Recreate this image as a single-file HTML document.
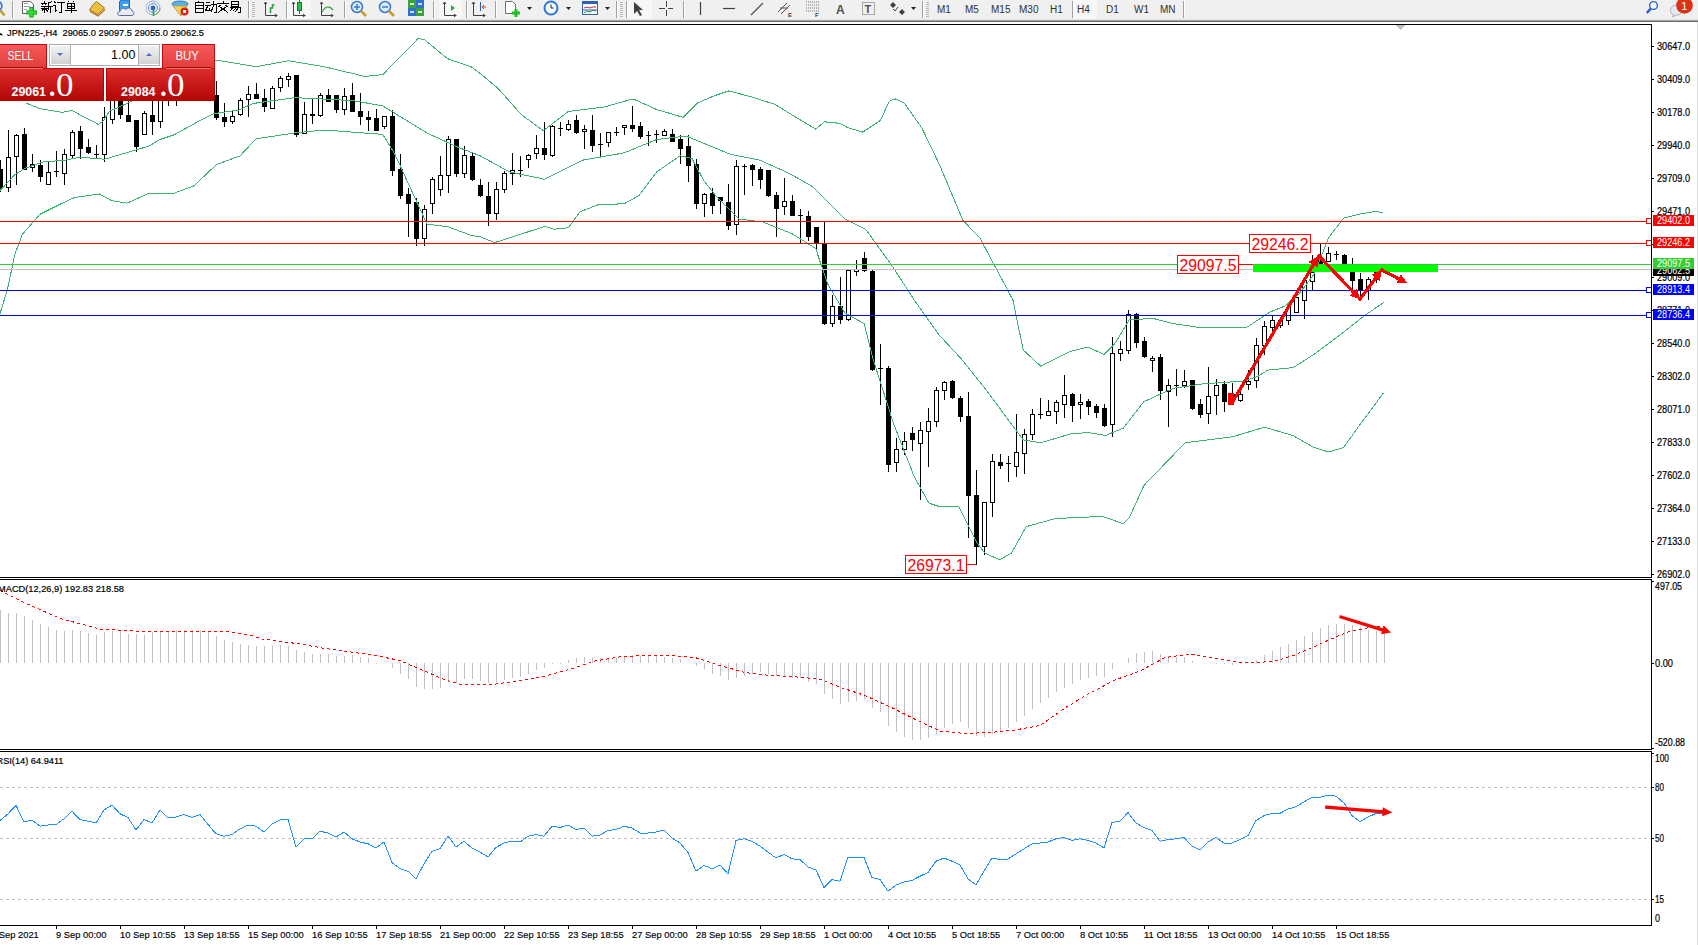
<!DOCTYPE html>
<html><head><meta charset="utf-8"><title>MT4 JPN225 H4</title>
<style>html,body{margin:0;padding:0;width:1698px;height:945px;overflow:hidden;background:#fff}
#wrap{position:relative;width:1698px;height:945px;overflow:hidden}</style></head>
<body><div id="wrap">
<svg width="1698" height="945" viewBox="0 0 1698 945" style="position:absolute;left:0;top:0;display:block">
<rect x="0" y="0" width="1698" height="945" fill="#ffffff"/>
<rect x="0" y="0" width="1698" height="20" fill="#f0f0f0"/>
<rect x="0" y="19" width="1698" height="1" fill="#e4e4e4"/>
<rect x="0" y="20" width="1698" height="1" fill="#a8a8a8"/>
<rect x="0" y="21" width="1698" height="1" fill="#6a6a6a"/>
<rect x="12" y="1" width="1" height="17" fill="#a0a0a0"/><rect x="13" y="1" width="1" height="17" fill="#ffffff"/>
<rect x="248" y="1" width="1" height="17" fill="#a0a0a0"/><rect x="249" y="1" width="1" height="17" fill="#ffffff"/>
<rect x="286" y="1" width="1" height="17" fill="#a0a0a0"/><rect x="287" y="1" width="1" height="17" fill="#ffffff"/>
<rect x="344" y="1" width="1" height="17" fill="#a0a0a0"/><rect x="345" y="1" width="1" height="17" fill="#ffffff"/>
<rect x="433" y="1" width="1" height="17" fill="#a0a0a0"/><rect x="434" y="1" width="1" height="17" fill="#ffffff"/>
<rect x="466" y="1" width="1" height="17" fill="#a0a0a0"/><rect x="467" y="1" width="1" height="17" fill="#ffffff"/>
<rect x="495" y="1" width="1" height="17" fill="#a0a0a0"/><rect x="496" y="1" width="1" height="17" fill="#ffffff"/>
<rect x="616" y="1" width="1" height="17" fill="#a0a0a0"/><rect x="617" y="1" width="1" height="17" fill="#ffffff"/>
<rect x="626" y="1" width="1" height="17" fill="#a0a0a0"/><rect x="627" y="1" width="1" height="17" fill="#ffffff"/>
<rect x="683" y="1" width="1" height="17" fill="#a0a0a0"/><rect x="684" y="1" width="1" height="17" fill="#ffffff"/>
<rect x="922" y="1" width="1" height="17" fill="#a0a0a0"/><rect x="923" y="1" width="1" height="17" fill="#ffffff"/>
<rect x="1072" y="1" width="1" height="17" fill="#a0a0a0"/><rect x="1073" y="1" width="1" height="17" fill="#ffffff"/>
<rect x="1183" y="1" width="1" height="17" fill="#a0a0a0"/><rect x="1184" y="1" width="1" height="17" fill="#ffffff"/>
<rect x="252" y="2" width="3" height="1" fill="#b8b8b8"/>
<rect x="252" y="4" width="3" height="1" fill="#b8b8b8"/>
<rect x="252" y="6" width="3" height="1" fill="#b8b8b8"/>
<rect x="252" y="8" width="3" height="1" fill="#b8b8b8"/>
<rect x="252" y="10" width="3" height="1" fill="#b8b8b8"/>
<rect x="252" y="12" width="3" height="1" fill="#b8b8b8"/>
<rect x="252" y="14" width="3" height="1" fill="#b8b8b8"/>
<rect x="252" y="16" width="3" height="1" fill="#b8b8b8"/>
<rect x="620" y="2" width="3" height="1" fill="#b8b8b8"/>
<rect x="620" y="4" width="3" height="1" fill="#b8b8b8"/>
<rect x="620" y="6" width="3" height="1" fill="#b8b8b8"/>
<rect x="620" y="8" width="3" height="1" fill="#b8b8b8"/>
<rect x="620" y="10" width="3" height="1" fill="#b8b8b8"/>
<rect x="620" y="12" width="3" height="1" fill="#b8b8b8"/>
<rect x="620" y="14" width="3" height="1" fill="#b8b8b8"/>
<rect x="620" y="16" width="3" height="1" fill="#b8b8b8"/>
<rect x="926" y="2" width="3" height="1" fill="#b8b8b8"/>
<rect x="926" y="4" width="3" height="1" fill="#b8b8b8"/>
<rect x="926" y="6" width="3" height="1" fill="#b8b8b8"/>
<rect x="926" y="8" width="3" height="1" fill="#b8b8b8"/>
<rect x="926" y="10" width="3" height="1" fill="#b8b8b8"/>
<rect x="926" y="12" width="3" height="1" fill="#b8b8b8"/>
<rect x="926" y="14" width="3" height="1" fill="#b8b8b8"/>
<rect x="926" y="16" width="3" height="1" fill="#b8b8b8"/>
<rect x="288" y="0" width="23" height="19" fill="#f7f7f7"/>
<rect x="439" y="0" width="23" height="19" fill="#f7f7f7"/>
<rect x="628" y="0" width="24" height="19" fill="#f7f7f7"/>
<rect x="1073" y="0" width="24" height="19" fill="#f7f7f7"/>
<rect x="286" y="1" width="1" height="17" fill="#a0a0a0"/><rect x="287" y="1" width="1" height="17" fill="#ffffff"/>
<rect x="433" y="1" width="1" height="17" fill="#a0a0a0"/><rect x="434" y="1" width="1" height="17" fill="#ffffff"/>
<rect x="1072" y="1" width="1" height="17" fill="#a0a0a0"/><rect x="1073" y="1" width="1" height="17" fill="#ffffff"/>
<circle cx="-3" cy="6" r="5" fill="#cfe3f7" stroke="#3a6fc0" stroke-width="1.5"/><path d="M0.5 10.5 L4.5 15.5" stroke="#c8a020" stroke-width="2.5"/>
<path d="M22.5 1.5 h8 l3 3 v9 h-11 z" fill="#ffffff" stroke="#606060"/>
<path d="M24 3.5h4M24 6.5h6M24 9.5h3" stroke="#a0a0a0"/>
<path d="M31.5 7v10.5M26.5 12.5h10.5" stroke="#1a8a1a" stroke-width="4.2"/><path d="M31.5 7.8v9M27.3 12.5h9" stroke="#30e030" stroke-width="2.6"/>
<g transform="translate(41,1)" stroke="#000" stroke-width="1" fill="none" shape-rendering="crispEdges"><path d="M3.5 0v2"/><path d="M0 2.5h6"/><path d="M1.5 3.5l1 1M4.5 3.5l-1 1"/><path d="M0 5.5h6.5"/><path d="M3.5 5.5v6"/><path d="M0 7.5h6.5"/><path d="M2.5 8l-2 2.5M4.5 8l1.5 2"/><path d="M11 0.5l-3.5 1.5v5l-1 4.5"/><path d="M7.5 5.5h4.5"/><path d="M9.5 5.5v6"/></g>
<g transform="translate(53,1)" stroke="#000" stroke-width="1" fill="none" shape-rendering="crispEdges"><path d="M1 0.5l1.5 1.5"/><path d="M0 4.5h2.5v6l1.5-1.5"/><path d="M4 1.5h7.5"/><path d="M8.5 1.5v9.5h-2.5"/></g>
<g transform="translate(65,1)" stroke="#000" stroke-width="1" fill="none" shape-rendering="crispEdges"><path d="M3 0l1.5 1.5M9 0l-1.5 1.5"/><path d="M2.5 2.5h7v5h-7z"/><path d="M2.5 5h7"/><path d="M6 2.5v9.5"/><path d="M0 9.5h12"/></g>
<g transform="translate(194,1)" stroke="#000" stroke-width="1" fill="none" shape-rendering="crispEdges"><path d="M5 0l-1 1"/><path d="M1.5 1.5h8v10h-8z"/><path d="M1.5 4.5h8"/><path d="M1.5 7.5h8"/></g>
<g transform="translate(205,1)" stroke="#000" stroke-width="1" fill="none" shape-rendering="crispEdges"><path d="M0.5 1.5h4.5"/><path d="M0 4.5h5.5"/><path d="M3 4.5l-2.5 5h5"/><path d="M4 7.5l1.5 2.5"/><path d="M6 3.5h5v7.5h-2"/><path d="M8.5 0v5l-2.5 6"/></g>
<g transform="translate(217,1)" stroke="#000" stroke-width="1" fill="none" shape-rendering="crispEdges"><path d="M6 0v1.5"/><path d="M0 2.5h12"/><path d="M3.5 4l-2 2M8.5 4l2 2"/><path d="M3 6l8 5.5"/><path d="M9 6l-8 5.5"/></g>
<g transform="translate(229,1)" stroke="#000" stroke-width="1" fill="none" shape-rendering="crispEdges"><path d="M2.5 0.5h7v5h-7z"/><path d="M2.5 3h7"/><path d="M1 6.5h10v5h-2"/><path d="M4 6.5l-3 3.5"/><path d="M6.5 7.5l-3 3"/><path d="M9 7.5l-3 3.5"/></g>
<path d="M89.5 10 Q93 4 96.5 1.5 L104.5 8 Q101 11 98 14.5 Z" fill="#e9c23a" stroke="#a86a18"/><path d="M90 11.5 L98 16 L105 9.5" fill="none" stroke="#b07820" stroke-width="1.2"/>
<path d="M119.5 1.5 l2 -1.5 h8 v9 l-2 1.5 h-8 z" fill="#3da0f0" stroke="#2060c0"/><rect x="123" y="4" width="5" height="2" fill="#ffffff"/>
<path d="M119.5 15.5 c-2.5 0 -2.5 -4 0.5 -4 c0 -3 4 -4.5 6 -2 c1.5 -2.5 5.5 -2 6 1.5 c2.5 0.3 2.5 4.5 0 4.5 z" fill="#e8ecf4" stroke="#5a6a9a"/>
<g fill="none" stroke-width="1"><circle cx="153" cy="8" r="7" stroke="#8fb0e0"/><circle cx="153" cy="8" r="4.5" stroke="#6a90d8"/><circle cx="153" cy="8" r="2" fill="#2060d0" stroke="#2060d0"/><path d="M153.5 9v7" stroke="#20a020" stroke-width="1.5"/><path d="M153 15 a7 7 0 0 0 7 -7" stroke="#60b060"/></g>
<ellipse cx="180" cy="4" rx="8" ry="3" fill="#5ab0e8" stroke="#3080c0"/><path d="M173 6 L187 6 L181 16 Z" fill="#f0d860" stroke="#c0a030"/><circle cx="184.5" cy="11.5" r="4" fill="#e02010"/><rect x="183" y="10" width="3" height="3" fill="#ffffff"/>
<path d="M265.5 2v13.5h12M264 4l1.5-2 1.5 2M275 14l2 1.5-2 1.5" fill="none" stroke="#404040"/>
<path d="M270.5 13v-5h2v-3h2" fill="none" stroke="#20a040" stroke-width="1.5"/>
<path d="M293.5 2v13.5h12M292 4l1.5-2 1.5 2M303 14l2 1.5-2 1.5" fill="none" stroke="#404040"/>
<rect x="297.5" y="2.5" width="4" height="8" fill="#2ec04a" stroke="#108030"/><path d="M299.5 0v2M299.5 11v3" stroke="#108030"/>
<path d="M321.5 2v13.5h12M320 4l1.5-2 1.5 2M331 14l2 1.5-2 1.5" fill="none" stroke="#404040"/>
<path d="M322 12 q5-9 11-2" fill="none" stroke="#30a030" stroke-width="1.2"/>
<circle cx="357" cy="7" r="5.5" fill="#d8ecfb" stroke="#3a78d0" stroke-width="1.5"/><path d="M361 11 l5 5" stroke="#c89a20" stroke-width="2.5"/>
<path d="M354 7h6" stroke="#3a78d0" stroke-width="1.5"/>
<path d="M357 4v6" stroke="#3a78d0" stroke-width="1.5"/>
<circle cx="385" cy="7" r="5.5" fill="#d8ecfb" stroke="#3a78d0" stroke-width="1.5"/><path d="M389 11 l5 5" stroke="#c89a20" stroke-width="2.5"/>
<path d="M382 7h6" stroke="#3a78d0" stroke-width="1.5"/>
<rect x="408" y="0" width="8" height="8" fill="#3aa040"/><rect x="416" y="0" width="8" height="8" fill="#3070d0"/><rect x="408" y="8" width="8" height="8" fill="#3070d0"/><rect x="416" y="8" width="8" height="8" fill="#3aa040"/>
<path d="M410 4h4M418 4h4M410 12h4M418 12h4" stroke="#fff" stroke-width="1.5"/>
<path d="M444.5 2v13.5h12M443 4l1.5-2 1.5 2M454 14l2 1.5-2 1.5" fill="none" stroke="#404040"/>
<path d="M451 5v6l4-3z" fill="#20b040"/>
<path d="M473.5 2v13.5h12M472 4l1.5-2 1.5 2M483 14l2 1.5-2 1.5" fill="none" stroke="#404040"/>
<path d="M480.5 2v9" stroke="#2060c0"/><path d="M486 7h-4M484 5l-2 2 2 2" fill="none" stroke="#d04010"/>
<path d="M505.5 1.5h7l3 3v9h-10z" fill="#fff" stroke="#707070"/><path d="M516 9v8M512 13h8" stroke="#1fbf1f" stroke-width="3"/>
<path d="M527 7h5l-2.5 3z" fill="#202020"/>
<path d="M566 7h5l-2.5 3z" fill="#202020"/>
<path d="M605 7h5l-2.5 3z" fill="#202020"/>
<circle cx="551" cy="8" r="7.5" fill="#2a7ad8"/><circle cx="551" cy="8" r="5.5" fill="#f4f8ff"/><path d="M551 4.5v3.5h2.5" stroke="#202020" fill="none"/>
<rect x="582.5" y="1.5" width="15" height="13" fill="#f8f8ff" stroke="#3060b0"/><rect x="583" y="2" width="14" height="2" fill="#3060b0"/><path d="M584 8l3-1 3 1 3-1 3 0" stroke="#c03020" fill="none"/><path d="M584 13l3-2 3 1 3-2 3 1" stroke="#20a040" fill="none"/><path d="M583 10h14" stroke="#3060b0"/>
<path d="M634 2 L634 14 L637 11 L640 16 L642 15 L639 10 L643 10 Z" fill="#404040"/>
<path d="M659 8.5h14M666.5 1v15" stroke="#404040"/><rect x="665" y="7" width="3" height="3" fill="#f0f0f0"/>
<path d="M700.5 2v13" stroke="#404040" stroke-width="1.2"/><path d="M723 8.5h12" stroke="#404040" stroke-width="1.2"/><path d="M751 15l12-12" stroke="#505050" stroke-width="1.2"/>
<path d="M778 12l9-9M781 14l9-9M780 8h8" stroke="#505050" fill="none"/><text x="788" y="17" font-family='"Liberation Sans",sans-serif' font-size="6" font-weight="bold" fill="#404040">E</text>
<path d="M806 2h13M806 5h13M806 8h13M806 11h13" stroke="#707070" stroke-dasharray="1 1"/><text x="815" y="17" font-family='"Liberation Sans",sans-serif' font-size="6" font-weight="bold" fill="#404040">F</text>
<text x="836" y="14" font-family='"Liberation Sans",sans-serif' font-size="12" font-weight="bold" fill="#505050">A</text>
<rect x="862.5" y="2.5" width="12" height="12" fill="none" stroke="#606060" stroke-dasharray="1 1"/><text x="864.5" y="13" font-family='"Liberation Sans",sans-serif' font-size="11" font-weight="bold" fill="#505050">T</text>
<path d="M890 5l3-3 3 3-3 3z M899 12l3-3 3 3-3 3z" fill="#404040"/><path d="M893 9l2 2 3-4" stroke="#404040" fill="none"/>
<path d="M911 7h5l-2.5 3z" fill="#202020"/>
<text x="937" y="13" font-family='"Liberation Sans",sans-serif' font-size="10" fill="#303030">M1</text>
<text x="965" y="13" font-family='"Liberation Sans",sans-serif' font-size="10" fill="#303030">M5</text>
<text x="991" y="13" font-family='"Liberation Sans",sans-serif' font-size="10" fill="#303030">M15</text>
<text x="1019" y="13" font-family='"Liberation Sans",sans-serif' font-size="10" fill="#303030">M30</text>
<text x="1050" y="13" font-family='"Liberation Sans",sans-serif' font-size="10" fill="#303030">H1</text>
<text x="1077" y="13" font-family='"Liberation Sans",sans-serif' font-size="10" fill="#303030">H4</text>
<text x="1106" y="13" font-family='"Liberation Sans",sans-serif' font-size="10" fill="#303030">D1</text>
<text x="1134" y="13" font-family='"Liberation Sans",sans-serif' font-size="10" fill="#303030">W1</text>
<text x="1160" y="13" font-family='"Liberation Sans",sans-serif' font-size="10" fill="#303030">MN</text>
<circle cx="1653.5" cy="5.5" r="3.9" fill="#f4f8ff" stroke="#2a62d0" stroke-width="1.4"/><path d="M1650.8 8.6l-4 4.2" stroke="#2a62d0" stroke-width="2.4"/>
<path d="M1677 5 c-4.5 0 -6.5 2.5 -6.5 5.5 c0 2 1 3.5 3 4.3 l-1 2.2 l3 -1.8 c4 0 7 -2 7 -4.7 c0 -3 -2 -5.5 -5.5 -5.5z" fill="#e6e8f0" stroke="#b0b0b8"/>
<circle cx="1684.5" cy="5.5" r="8.3" fill="#dc3216"/><text x="1681.3" y="9.6" font-family='"Liberation Sans",sans-serif' font-size="11" fill="#fff">1</text>
<rect x="1697" y="22" width="1" height="923" fill="#dcdcdc"/>
<defs><clipPath id="cm"><rect x="0" y="25" width="1651" height="552"/></clipPath><clipPath id="cd"><rect x="0" y="580" width="1651" height="169"/></clipPath><clipPath id="cr"><rect x="0" y="752" width="1651" height="173"/></clipPath></defs>
<g clip-path="url(#cm)" shape-rendering="crispEdges">
<g fill="#000"><rect x="0" y="160" width="1" height="32"/><rect x="-2" y="169" width="5" height="19"/><rect x="8" y="130" width="1" height="62"/><rect x="6" y="157" width="5" height="31"/><rect x="7" y="158" width="3" height="29" fill="#fff"/><rect x="16" y="134" width="1" height="51"/><rect x="14" y="135" width="5" height="22"/><rect x="15" y="136" width="3" height="20" fill="#fff"/><rect x="24" y="128" width="1" height="42"/><rect x="22" y="134" width="5" height="36"/><rect x="32" y="154" width="1" height="18"/><rect x="30" y="164" width="5" height="4"/><rect x="31" y="165" width="3" height="2" fill="#fff"/><rect x="40" y="160" width="1" height="22"/><rect x="38" y="165" width="5" height="12"/><rect x="48" y="162" width="1" height="23"/><rect x="46" y="172" width="5" height="13"/><rect x="47" y="173" width="3" height="11" fill="#fff"/><rect x="56" y="151" width="1" height="26"/><rect x="54" y="171" width="5" height="1"/><rect x="64" y="149" width="1" height="36"/><rect x="62" y="154" width="5" height="20"/><rect x="63" y="155" width="3" height="18" fill="#fff"/><rect x="72" y="130" width="1" height="29"/><rect x="70" y="132" width="5" height="24"/><rect x="71" y="133" width="3" height="22" fill="#fff"/><rect x="80" y="126" width="1" height="33"/><rect x="78" y="131" width="5" height="18"/><rect x="88" y="139" width="1" height="15"/><rect x="86" y="147" width="5" height="6"/><rect x="96" y="145" width="1" height="14"/><rect x="94" y="154" width="5" height="1"/><rect x="104" y="107" width="1" height="55"/><rect x="102" y="117" width="5" height="38"/><rect x="103" y="118" width="3" height="36" fill="#fff"/><rect x="112" y="92" width="1" height="32"/><rect x="110" y="96" width="5" height="24"/><rect x="111" y="97" width="3" height="22" fill="#fff"/><rect x="120" y="95" width="1" height="24"/><rect x="118" y="100" width="5" height="15"/><rect x="128" y="100" width="1" height="22"/><rect x="126" y="115" width="5" height="7"/><rect x="136" y="120" width="1" height="32"/><rect x="134" y="120" width="5" height="27"/><rect x="144" y="111" width="1" height="24"/><rect x="142" y="113" width="5" height="22"/><rect x="143" y="114" width="3" height="20" fill="#fff"/><rect x="152" y="100" width="1" height="35"/><rect x="150" y="115" width="5" height="7"/><rect x="160" y="98" width="1" height="30"/><rect x="158" y="100" width="5" height="22"/><rect x="159" y="101" width="3" height="20" fill="#fff"/><rect x="168" y="85" width="1" height="21"/><rect x="166" y="90" width="5" height="11"/><rect x="167" y="91" width="3" height="9" fill="#fff"/><rect x="176" y="80" width="1" height="26"/><rect x="174" y="85" width="5" height="14"/><rect x="184" y="70" width="1" height="26"/><rect x="182" y="75" width="5" height="16"/><rect x="183" y="76" width="3" height="14" fill="#fff"/><rect x="192" y="65" width="1" height="28"/><rect x="190" y="70" width="5" height="16"/><rect x="200" y="60" width="1" height="31"/><rect x="198" y="68" width="5" height="15"/><rect x="199" y="69" width="3" height="13" fill="#fff"/><rect x="208" y="62" width="1" height="27"/><rect x="206" y="70" width="5" height="11"/><rect x="216" y="81" width="1" height="39"/><rect x="214" y="95" width="5" height="23"/><rect x="224" y="103" width="1" height="24"/><rect x="222" y="117" width="5" height="5"/><rect x="232" y="111" width="1" height="13"/><rect x="230" y="116" width="5" height="6"/><rect x="231" y="117" width="3" height="4" fill="#fff"/><rect x="240" y="98" width="1" height="18"/><rect x="238" y="100" width="5" height="15"/><rect x="239" y="101" width="3" height="13" fill="#fff"/><rect x="248" y="86" width="1" height="31"/><rect x="246" y="94" width="5" height="6"/><rect x="247" y="95" width="3" height="4" fill="#fff"/><rect x="256" y="83" width="1" height="16"/><rect x="254" y="94" width="5" height="5"/><rect x="264" y="89" width="1" height="23"/><rect x="262" y="98" width="5" height="9"/><rect x="272" y="86" width="1" height="23"/><rect x="270" y="88" width="5" height="21"/><rect x="271" y="89" width="3" height="19" fill="#fff"/><rect x="280" y="76" width="1" height="16"/><rect x="278" y="78" width="5" height="10"/><rect x="279" y="79" width="3" height="8" fill="#fff"/><rect x="288" y="73" width="1" height="14"/><rect x="286" y="76" width="5" height="4"/><rect x="287" y="77" width="3" height="2" fill="#fff"/><rect x="296" y="75" width="1" height="62"/><rect x="294" y="75" width="5" height="60"/><rect x="304" y="102" width="1" height="32"/><rect x="302" y="114" width="5" height="20"/><rect x="303" y="115" width="3" height="18" fill="#fff"/><rect x="312" y="98" width="1" height="26"/><rect x="310" y="114" width="5" height="2"/><rect x="320" y="93" width="1" height="24"/><rect x="318" y="95" width="5" height="21"/><rect x="319" y="96" width="3" height="19" fill="#fff"/><rect x="328" y="89" width="1" height="13"/><rect x="326" y="95" width="5" height="7"/><rect x="336" y="95" width="1" height="18"/><rect x="334" y="95" width="5" height="15"/><rect x="344" y="88" width="1" height="27"/><rect x="342" y="96" width="5" height="14"/><rect x="343" y="97" width="3" height="12" fill="#fff"/><rect x="352" y="83" width="1" height="29"/><rect x="350" y="95" width="5" height="17"/><rect x="360" y="93" width="1" height="32"/><rect x="358" y="111" width="5" height="6"/><rect x="368" y="111" width="1" height="20"/><rect x="366" y="117" width="5" height="3"/><rect x="376" y="109" width="1" height="22"/><rect x="374" y="118" width="5" height="13"/><rect x="384" y="116" width="1" height="13"/><rect x="382" y="116" width="5" height="11"/><rect x="383" y="117" width="3" height="9" fill="#fff"/><rect x="392" y="110" width="1" height="66"/><rect x="390" y="116" width="5" height="55"/><rect x="400" y="154" width="1" height="45"/><rect x="398" y="169" width="5" height="27"/><rect x="408" y="188" width="1" height="49"/><rect x="406" y="194" width="5" height="10"/><rect x="416" y="198" width="1" height="48"/><rect x="414" y="202" width="5" height="37"/><rect x="424" y="205" width="1" height="41"/><rect x="422" y="209" width="5" height="30"/><rect x="423" y="210" width="3" height="28" fill="#fff"/><rect x="432" y="177" width="1" height="37"/><rect x="430" y="179" width="5" height="25"/><rect x="431" y="180" width="3" height="23" fill="#fff"/><rect x="440" y="156" width="1" height="40"/><rect x="438" y="175" width="5" height="15"/><rect x="439" y="176" width="3" height="13" fill="#fff"/><rect x="448" y="136" width="1" height="57"/><rect x="446" y="139" width="5" height="37"/><rect x="447" y="140" width="3" height="35" fill="#fff"/><rect x="456" y="139" width="1" height="38"/><rect x="454" y="139" width="5" height="35"/><rect x="464" y="146" width="1" height="32"/><rect x="462" y="155" width="5" height="19"/><rect x="463" y="156" width="3" height="17" fill="#fff"/><rect x="472" y="152" width="1" height="29"/><rect x="470" y="156" width="5" height="24"/><rect x="480" y="179" width="1" height="18"/><rect x="478" y="185" width="5" height="11"/><rect x="488" y="182" width="1" height="44"/><rect x="486" y="196" width="5" height="18"/><rect x="496" y="182" width="1" height="38"/><rect x="494" y="189" width="5" height="25"/><rect x="495" y="190" width="3" height="23" fill="#fff"/><rect x="504" y="171" width="1" height="22"/><rect x="502" y="173" width="5" height="17"/><rect x="503" y="174" width="3" height="15" fill="#fff"/><rect x="512" y="153" width="1" height="32"/><rect x="510" y="170" width="5" height="4"/><rect x="511" y="171" width="3" height="2" fill="#fff"/><rect x="520" y="156" width="1" height="21"/><rect x="518" y="170" width="5" height="1"/><rect x="528" y="154" width="1" height="14"/><rect x="526" y="155" width="5" height="5"/><rect x="527" y="156" width="3" height="3" fill="#fff"/><rect x="536" y="135" width="1" height="24"/><rect x="534" y="148" width="5" height="6"/><rect x="535" y="149" width="3" height="4" fill="#fff"/><rect x="544" y="122" width="1" height="38"/><rect x="542" y="148" width="5" height="7"/><rect x="552" y="125" width="1" height="32"/><rect x="550" y="126" width="5" height="30"/><rect x="551" y="127" width="3" height="28" fill="#fff"/><rect x="560" y="122" width="1" height="14"/><rect x="558" y="128" width="5" height="1"/><rect x="568" y="120" width="1" height="11"/><rect x="566" y="124" width="5" height="6"/><rect x="567" y="125" width="3" height="4" fill="#fff"/><rect x="576" y="115" width="1" height="19"/><rect x="574" y="120" width="5" height="13"/><rect x="584" y="125" width="1" height="24"/><rect x="582" y="129" width="5" height="3"/><rect x="583" y="130" width="3" height="1" fill="#fff"/><rect x="592" y="115" width="1" height="37"/><rect x="590" y="130" width="5" height="16"/><rect x="600" y="133" width="1" height="25"/><rect x="598" y="144" width="5" height="1"/><rect x="608" y="132" width="1" height="15"/><rect x="606" y="132" width="5" height="11"/><rect x="607" y="133" width="3" height="9" fill="#fff"/><rect x="616" y="127" width="1" height="9"/><rect x="614" y="132" width="5" height="1"/><rect x="624" y="125" width="1" height="10"/><rect x="622" y="125" width="5" height="3"/><rect x="623" y="126" width="3" height="1" fill="#fff"/><rect x="632" y="106" width="1" height="26"/><rect x="630" y="125" width="5" height="4"/><rect x="640" y="122" width="1" height="17"/><rect x="638" y="126" width="5" height="11"/><rect x="648" y="131" width="1" height="15"/><rect x="646" y="135" width="5" height="1"/><rect x="656" y="130" width="1" height="13"/><rect x="654" y="134" width="5" height="1"/><rect x="664" y="129" width="1" height="7"/><rect x="662" y="131" width="5" height="5"/><rect x="663" y="132" width="3" height="3" fill="#fff"/><rect x="672" y="129" width="1" height="13"/><rect x="670" y="134" width="5" height="8"/><rect x="680" y="135" width="1" height="29"/><rect x="678" y="139" width="5" height="10"/><rect x="688" y="135" width="1" height="47"/><rect x="686" y="146" width="5" height="20"/><rect x="696" y="159" width="1" height="50"/><rect x="694" y="164" width="5" height="40"/><rect x="704" y="193" width="1" height="24"/><rect x="702" y="194" width="5" height="10"/><rect x="703" y="195" width="3" height="8" fill="#fff"/><rect x="712" y="188" width="1" height="26"/><rect x="710" y="193" width="5" height="13"/><rect x="720" y="197" width="1" height="17"/><rect x="718" y="197" width="5" height="4"/><rect x="728" y="184" width="1" height="46"/><rect x="726" y="202" width="5" height="24"/><rect x="736" y="160" width="1" height="75"/><rect x="734" y="166" width="5" height="59"/><rect x="735" y="167" width="3" height="57" fill="#fff"/><rect x="744" y="164" width="1" height="31"/><rect x="742" y="166" width="5" height="1"/><rect x="752" y="164" width="1" height="22"/><rect x="750" y="165" width="5" height="5"/><rect x="760" y="167" width="1" height="22"/><rect x="758" y="169" width="5" height="11"/><rect x="768" y="170" width="1" height="27"/><rect x="766" y="170" width="5" height="26"/><rect x="776" y="192" width="1" height="45"/><rect x="774" y="195" width="5" height="14"/><rect x="784" y="178" width="1" height="37"/><rect x="782" y="201" width="5" height="6"/><rect x="783" y="202" width="3" height="4" fill="#fff"/><rect x="792" y="195" width="1" height="21"/><rect x="790" y="201" width="5" height="15"/><rect x="800" y="209" width="1" height="35"/><rect x="798" y="215" width="5" height="1"/><rect x="808" y="211" width="1" height="30"/><rect x="806" y="216" width="5" height="21"/><rect x="816" y="227" width="1" height="25"/><rect x="814" y="227" width="5" height="17"/><rect x="824" y="222" width="1" height="103"/><rect x="822" y="243" width="5" height="81"/><rect x="832" y="295" width="1" height="32"/><rect x="830" y="306" width="5" height="18"/><rect x="831" y="307" width="3" height="16" fill="#fff"/><rect x="840" y="277" width="1" height="47"/><rect x="838" y="306" width="5" height="14"/><rect x="848" y="270" width="1" height="51"/><rect x="846" y="270" width="5" height="50"/><rect x="847" y="271" width="3" height="48" fill="#fff"/><rect x="856" y="260" width="1" height="16"/><rect x="854" y="269" width="5" height="3"/><rect x="855" y="270" width="3" height="1" fill="#fff"/><rect x="864" y="252" width="1" height="20"/><rect x="862" y="258" width="5" height="13"/><rect x="872" y="270" width="1" height="101"/><rect x="870" y="271" width="5" height="99"/><rect x="880" y="344" width="1" height="61"/><rect x="878" y="368" width="5" height="1"/><rect x="888" y="366" width="1" height="106"/><rect x="886" y="368" width="5" height="97"/><rect x="896" y="438" width="1" height="34"/><rect x="894" y="449" width="5" height="14"/><rect x="895" y="450" width="3" height="12" fill="#fff"/><rect x="904" y="432" width="1" height="23"/><rect x="902" y="441" width="5" height="9"/><rect x="903" y="442" width="3" height="7" fill="#fff"/><rect x="912" y="427" width="1" height="24"/><rect x="910" y="433" width="5" height="7"/><rect x="920" y="422" width="1" height="78"/><rect x="918" y="430" width="5" height="14"/><rect x="919" y="431" width="3" height="12" fill="#fff"/><rect x="928" y="408" width="1" height="59"/><rect x="926" y="421" width="5" height="11"/><rect x="927" y="422" width="3" height="9" fill="#fff"/><rect x="936" y="387" width="1" height="40"/><rect x="934" y="390" width="5" height="32"/><rect x="935" y="391" width="3" height="30" fill="#fff"/><rect x="944" y="381" width="1" height="19"/><rect x="942" y="382" width="5" height="9"/><rect x="943" y="383" width="3" height="7" fill="#fff"/><rect x="952" y="380" width="1" height="19"/><rect x="950" y="381" width="5" height="17"/><rect x="960" y="396" width="1" height="26"/><rect x="958" y="398" width="5" height="19"/><rect x="968" y="392" width="1" height="146"/><rect x="966" y="416" width="5" height="80"/><rect x="976" y="470" width="1" height="95"/><rect x="974" y="495" width="5" height="52"/><rect x="984" y="502" width="1" height="53"/><rect x="982" y="502" width="5" height="45"/><rect x="983" y="503" width="3" height="43" fill="#fff"/><rect x="992" y="454" width="1" height="63"/><rect x="990" y="461" width="5" height="42"/><rect x="991" y="462" width="3" height="40" fill="#fff"/><rect x="1000" y="454" width="1" height="15"/><rect x="998" y="462" width="5" height="4"/><rect x="1008" y="456" width="1" height="26"/><rect x="1006" y="463" width="5" height="1"/><rect x="1016" y="414" width="1" height="63"/><rect x="1014" y="452" width="5" height="15"/><rect x="1015" y="453" width="3" height="13" fill="#fff"/><rect x="1024" y="429" width="1" height="45"/><rect x="1022" y="434" width="5" height="20"/><rect x="1023" y="435" width="3" height="18" fill="#fff"/><rect x="1032" y="409" width="1" height="31"/><rect x="1030" y="414" width="5" height="21"/><rect x="1031" y="415" width="3" height="19" fill="#fff"/><rect x="1040" y="398" width="1" height="21"/><rect x="1038" y="414" width="5" height="1"/><rect x="1048" y="400" width="1" height="16"/><rect x="1046" y="411" width="5" height="5"/><rect x="1047" y="412" width="3" height="3" fill="#fff"/><rect x="1056" y="400" width="1" height="24"/><rect x="1054" y="402" width="5" height="10"/><rect x="1055" y="403" width="3" height="8" fill="#fff"/><rect x="1064" y="375" width="1" height="43"/><rect x="1062" y="395" width="5" height="10"/><rect x="1063" y="396" width="3" height="8" fill="#fff"/><rect x="1072" y="393" width="1" height="29"/><rect x="1070" y="394" width="5" height="12"/><rect x="1080" y="394" width="1" height="25"/><rect x="1078" y="402" width="5" height="3"/><rect x="1079" y="403" width="3" height="1" fill="#fff"/><rect x="1088" y="399" width="1" height="16"/><rect x="1086" y="401" width="5" height="6"/><rect x="1096" y="404" width="1" height="14"/><rect x="1094" y="406" width="5" height="7"/><rect x="1104" y="404" width="1" height="23"/><rect x="1102" y="408" width="5" height="18"/><rect x="1112" y="337" width="1" height="100"/><rect x="1110" y="353" width="5" height="72"/><rect x="1111" y="354" width="3" height="70" fill="#fff"/><rect x="1120" y="341" width="1" height="20"/><rect x="1118" y="349" width="5" height="5"/><rect x="1119" y="350" width="3" height="3" fill="#fff"/><rect x="1128" y="310" width="1" height="44"/><rect x="1126" y="314" width="5" height="37"/><rect x="1127" y="315" width="3" height="35" fill="#fff"/><rect x="1136" y="313" width="1" height="35"/><rect x="1134" y="314" width="5" height="29"/><rect x="1144" y="337" width="1" height="21"/><rect x="1142" y="341" width="5" height="16"/><rect x="1152" y="356" width="1" height="16"/><rect x="1150" y="358" width="5" height="3"/><rect x="1151" y="359" width="3" height="1" fill="#fff"/><rect x="1160" y="354" width="1" height="46"/><rect x="1158" y="357" width="5" height="34"/><rect x="1168" y="379" width="1" height="48"/><rect x="1166" y="385" width="5" height="7"/><rect x="1167" y="386" width="3" height="5" fill="#fff"/><rect x="1176" y="369" width="1" height="27"/><rect x="1174" y="385" width="5" height="1"/><rect x="1184" y="370" width="1" height="18"/><rect x="1182" y="381" width="5" height="5"/><rect x="1183" y="382" width="3" height="3" fill="#fff"/><rect x="1192" y="380" width="1" height="30"/><rect x="1190" y="380" width="5" height="29"/><rect x="1200" y="399" width="1" height="19"/><rect x="1198" y="404" width="5" height="11"/><rect x="1208" y="367" width="1" height="57"/><rect x="1206" y="396" width="5" height="18"/><rect x="1207" y="397" width="3" height="16" fill="#fff"/><rect x="1216" y="379" width="1" height="36"/><rect x="1214" y="385" width="5" height="11"/><rect x="1215" y="386" width="3" height="9" fill="#fff"/><rect x="1224" y="381" width="1" height="31"/><rect x="1222" y="384" width="5" height="18"/><rect x="1232" y="383" width="1" height="20"/><rect x="1230" y="394" width="5" height="5"/><rect x="1231" y="395" width="3" height="3" fill="#fff"/><rect x="1240" y="390" width="1" height="12"/><rect x="1238" y="394" width="5" height="7"/><rect x="1239" y="395" width="3" height="5" fill="#fff"/><rect x="1248" y="370" width="1" height="20"/><rect x="1246" y="381" width="5" height="4"/><rect x="1247" y="382" width="3" height="2" fill="#fff"/><rect x="1256" y="338" width="1" height="50"/><rect x="1254" y="345" width="5" height="36"/><rect x="1255" y="346" width="3" height="34" fill="#fff"/><rect x="1264" y="321" width="1" height="34"/><rect x="1262" y="326" width="5" height="20"/><rect x="1263" y="327" width="3" height="18" fill="#fff"/><rect x="1272" y="316" width="1" height="16"/><rect x="1270" y="320" width="5" height="8"/><rect x="1271" y="321" width="3" height="6" fill="#fff"/><rect x="1280" y="319" width="1" height="9"/><rect x="1278" y="320" width="5" height="6"/><rect x="1279" y="321" width="3" height="4" fill="#fff"/><rect x="1288" y="304" width="1" height="21"/><rect x="1286" y="307" width="5" height="14"/><rect x="1287" y="308" width="3" height="12" fill="#fff"/><rect x="1296" y="297" width="1" height="16"/><rect x="1294" y="297" width="5" height="16"/><rect x="1295" y="298" width="3" height="14" fill="#fff"/><rect x="1304" y="280" width="1" height="39"/><rect x="1302" y="280" width="5" height="21"/><rect x="1303" y="281" width="3" height="19" fill="#fff"/><rect x="1312" y="255" width="1" height="36"/><rect x="1310" y="272" width="5" height="10"/><rect x="1311" y="273" width="3" height="8" fill="#fff"/><rect x="1320" y="243" width="1" height="23"/><rect x="1318" y="257" width="5" height="9"/><rect x="1328" y="247" width="1" height="15"/><rect x="1326" y="253" width="5" height="9"/><rect x="1327" y="254" width="3" height="7" fill="#fff"/><rect x="1336" y="251" width="1" height="9"/><rect x="1334" y="254" width="5" height="1"/><rect x="1344" y="254" width="1" height="11"/><rect x="1342" y="255" width="5" height="10"/><rect x="1352" y="258" width="1" height="32"/><rect x="1350" y="264" width="5" height="17"/><rect x="1360" y="273" width="1" height="27"/><rect x="1358" y="279" width="5" height="12"/><rect x="1368" y="277" width="1" height="23"/><rect x="1366" y="279" width="5" height="12"/><rect x="1367" y="280" width="3" height="10" fill="#fff"/><rect x="1376" y="270" width="1" height="13"/><rect x="1374" y="272" width="5" height="8"/><rect x="1375" y="273" width="3" height="6" fill="#fff"/><rect x="1384" y="264" width="1" height="7"/><rect x="1382" y="265" width="5" height="1"/></g>
<polyline points="26.0,103.0 39.8,108.7 62.2,112.4 72.0,110.4 84.6,117.4 98.2,124.3 103.2,121.1 109.4,111.2 129.3,102.5 170.0,80.0 216.0,60.0 256.0,66.7 288.6,60.8 324.0,66.7 365.0,76.4 382.8,74.6 418.0,38.7 424.0,39.3 447.6,58.7 471.0,66.7 480.0,73.3 497.7,88.0 521.2,114.5 543.3,130.7 568.3,111.5 603.7,107.1 633.0,98.9 656.7,109.5 683.2,117.4 698.0,102.7 715.6,95.3 728.8,90.9 751.0,96.8 774.5,104.2 815.7,129.2 824.5,121.8 839.3,123.3 848.0,127.7 862.8,132.1 880.5,120.4 889.3,101.2 895.2,98.9 904.0,102.7 921.7,127.7 939.4,164.5 963.0,220.5 980.0,238.2 1012.9,300.0 1023.2,350.0 1040.8,366.3 1070.3,351.5 1088.0,347.1 1104.2,354.5 1114.5,344.2 1129.2,320.0 1152.7,318.3 1173.4,323.6 1196.9,327.1 1247.0,327.1 1270.5,311.8 1285.3,305.9 1299.2,293.6 1314.0,274.4 1328.8,237.4 1343.6,218.1 1358.4,214.3 1376.2,211.3 1383.6,213.1" fill="none" stroke="#3cb371" stroke-width="1" shape-rendering="crispEdges"/>
<polyline points="0.0,190.7 14.9,174.6 24.9,168.4 42.3,162.1 64.7,160.2 79.6,157.2 104.5,159.2 124.3,153.4 149.2,146.0 159.2,139.8 174.1,134.8 199.0,121.1 213.9,113.7 238.7,110.0 253.0,103.5 294.5,97.6 353.0,100.6 382.8,105.9 427.0,133.0 459.0,147.7 480.0,155.7 509.4,171.9 544.8,179.3 583.0,160.1 624.3,152.8 656.7,139.5 686.0,136.0 730.3,154.2 759.7,160.1 789.2,173.4 812.7,186.6 845.1,219.0 865.7,229.3 892.3,266.1 914.2,300.0 939.4,335.3 961.3,358.9 984.9,388.3 1023.2,439.9 1040.8,442.8 1070.3,434.0 1088.0,432.5 1105.6,435.5 1123.3,428.1 1143.9,401.6 1173.4,388.3 1202.8,383.9 1244.0,381.0 1257.8,376.5 1267.6,370.1 1293.3,367.6 1314.0,354.3 1343.6,332.1 1364.3,315.8 1383.6,302.5" fill="none" stroke="#3cb371" stroke-width="1" shape-rendering="crispEdges"/>
<polyline points="0.0,313.8 7.5,289.0 14.9,254.2 22.4,234.3 39.8,214.4 59.7,204.4 74.6,197.5 99.5,194.0 111.9,200.7 126.8,203.2 149.2,193.2 174.1,193.2 194.0,185.8 216.4,164.6 240.0,155.9 256.0,138.8 294.5,133.0 324.0,130.0 382.8,134.4 394.6,153.6 427.0,224.2 447.6,226.6 471.0,235.4 480.0,236.7 494.7,242.6 544.8,226.4 553.6,229.3 568.3,227.8 580.0,211.7 597.8,204.9 624.3,203.7 639.0,195.5 656.7,171.9 680.2,155.7 692.0,158.6 703.8,180.7 715.6,195.5 739.1,219.0 762.7,222.0 792.1,233.7 815.7,248.5 827.5,283.8 845.1,313.2 864.2,323.6 873.0,358.9 893.6,423.7 914.2,476.7 929.0,503.2 937.8,506.1 958.4,506.1 976.1,541.5 984.9,553.2 999.6,559.7 1011.4,553.2 1026.1,526.7 1055.6,518.5 1102.7,516.4 1123.3,523.8 1129.2,517.9 1143.9,485.5 1185.1,442.8 1232.2,436.9 1264.6,427.2 1293.3,435.7 1314.0,447.5 1328.8,452.0 1343.6,447.5 1358.4,426.8 1383.6,392.8" fill="none" stroke="#3cb371" stroke-width="1" shape-rendering="crispEdges"/>
<rect x="0" y="221" width="1651" height="1" fill="#ff0000"/>
<rect x="0" y="243" width="1651" height="1" fill="#ff0000"/>
<rect x="0" y="264" width="1651" height="1" fill="#32cd32"/>
<rect x="0" y="269" width="1651" height="1" fill="#c0c0c0"/>
<rect x="0" y="290" width="1651" height="1" fill="#0000ff"/>
<rect x="0" y="315" width="1651" height="1" fill="#0000ff"/>
<rect x="1646.5" y="218.5" width="5" height="5" fill="#fff" stroke="#ff0000"/>
<rect x="1646.5" y="240.5" width="5" height="5" fill="#fff" stroke="#ff0000"/>
<rect x="1646.5" y="287.5" width="5" height="5" fill="#fff" stroke="#0000ff"/>
<rect x="1646.5" y="312.5" width="5" height="5" fill="#fff" stroke="#0000ff"/>
<rect x="1253" y="265" width="185" height="7" fill="#00ff00"/>
<rect x="1239" y="264" width="14" height="1" fill="#ff0000"/>
<rect x="1249.5" y="234.5" width="61" height="18" fill="#fff" stroke="#ff0000"/>
<text x="1251.5" y="250" font-family='"Liberation Sans", sans-serif' font-size="16.5" fill="#ff0000" textLength="57" lengthAdjust="spacingAndGlyphs">29246.2</text>
<rect x="1177.5" y="255.5" width="61" height="18" fill="#fff" stroke="#ff0000"/>
<text x="1179.5" y="271" font-family='"Liberation Sans", sans-serif' font-size="16.5" fill="#ff0000" textLength="57" lengthAdjust="spacingAndGlyphs">29097.5</text>
<rect x="966" y="564" width="11" height="1" fill="#ff0000"/>
<rect x="976" y="546" width="1" height="19" fill="#000"/>
<rect x="905.5" y="555.5" width="61" height="18" fill="#fff" stroke="#ff0000"/>
<text x="907.5" y="571" font-family='"Liberation Sans", sans-serif' font-size="16.5" fill="#ff0000" textLength="57" lengthAdjust="spacingAndGlyphs">26973.1</text>
<path d="M1396 25 L1405 25 L1400.5 30 Z" fill="#c0c0c0"/>
</g>
<g shape-rendering="crispEdges">
<path d="M1232.0 403.0 L1313.2 264.9" stroke="#ff0000" stroke-width="3.2" fill="none" stroke-linecap="square"/>
<path d="M1318.8 255.4 L1318.0 267.7 L1308.5 262.1 Z" fill="#ff0000"/>
<rect x="1228" y="393" width="6" height="12" fill="#ff0000"/>
<path d="M1319.0 256.0 L1353.3 292.1" stroke="#ff0000" stroke-width="3.2" fill="none" stroke-linecap="square"/>
<path d="M1360.2 299.4 L1349.7 295.6 L1356.9 288.7 Z" fill="#ff0000"/>
<path d="M1360.0 299.0 L1375.9 277.8" stroke="#ff0000" stroke-width="3.2" fill="none" stroke-linecap="square"/>
<path d="M1381.9 269.8 L1379.9 280.8 L1371.9 274.8 Z" fill="#ff0000"/>
<path d="M1382.0 270.0 L1398.6 278.8" stroke="#ff0000" stroke-width="3.2" fill="none" stroke-linecap="square"/>
<path d="M1407.4 283.5 L1396.2 283.2 L1400.9 274.4 Z" fill="#ff0000"/>
</g>
<rect x="0" y="24" width="1652" height="1" fill="#000000"/>
<rect x="0" y="577" width="1652" height="1" fill="#000000"/>
<rect x="0" y="579" width="1652" height="1" fill="#000000"/>
<rect x="0" y="749" width="1652" height="1" fill="#000000"/>
<rect x="0" y="751" width="1652" height="1" fill="#000000"/>
<rect x="0" y="925" width="1652" height="1" fill="#000000"/>
<rect x="1651" y="24" width="1" height="554" fill="#000000"/>
<rect x="1651" y="579" width="1" height="171" fill="#000000"/>
<rect x="1651" y="751" width="1" height="175" fill="#000000"/>
<path d="M0 33 L2 34 L3 35.5 L0 35 Z" fill="#000"/>
<text x="7" y="36" font-family='"Liberation Sans", sans-serif' font-size="9.5" fill="#000" stroke="#000" stroke-width="0.2" textLength="197" lengthAdjust="spacingAndGlyphs">JPN225-,H4&#160; 29065.0 29097.5 29055.0 29062.5</text>
<rect x="1652" y="46" width="2" height="1" fill="#000000"/>
<text x="1657" y="50" font-family='"Liberation Sans", sans-serif' font-size="10" fill="#000" stroke="#000" stroke-width="0.2" textLength="33" lengthAdjust="spacingAndGlyphs">30647.0</text>
<rect x="1652" y="79" width="2" height="1" fill="#000000"/>
<text x="1657" y="83" font-family='"Liberation Sans", sans-serif' font-size="10" fill="#000" stroke="#000" stroke-width="0.2" textLength="33" lengthAdjust="spacingAndGlyphs">30409.0</text>
<rect x="1652" y="112" width="2" height="1" fill="#000000"/>
<text x="1657" y="116" font-family='"Liberation Sans", sans-serif' font-size="10" fill="#000" stroke="#000" stroke-width="0.2" textLength="33" lengthAdjust="spacingAndGlyphs">30178.0</text>
<rect x="1652" y="145" width="2" height="1" fill="#000000"/>
<text x="1657" y="149" font-family='"Liberation Sans", sans-serif' font-size="10" fill="#000" stroke="#000" stroke-width="0.2" textLength="33" lengthAdjust="spacingAndGlyphs">29940.0</text>
<rect x="1652" y="178" width="2" height="1" fill="#000000"/>
<text x="1657" y="182" font-family='"Liberation Sans", sans-serif' font-size="10" fill="#000" stroke="#000" stroke-width="0.2" textLength="33" lengthAdjust="spacingAndGlyphs">29709.0</text>
<rect x="1652" y="211" width="2" height="1" fill="#000000"/>
<text x="1657" y="215" font-family='"Liberation Sans", sans-serif' font-size="10" fill="#000" stroke="#000" stroke-width="0.2" textLength="33" lengthAdjust="spacingAndGlyphs">29471.0</text>
<rect x="1652" y="244" width="2" height="1" fill="#000000"/>
<text x="1657" y="248" font-family='"Liberation Sans", sans-serif' font-size="10" fill="#000" stroke="#000" stroke-width="0.2" textLength="33" lengthAdjust="spacingAndGlyphs">29240.0</text>
<rect x="1652" y="277" width="2" height="1" fill="#000000"/>
<text x="1657" y="281" font-family='"Liberation Sans", sans-serif' font-size="10" fill="#000" stroke="#000" stroke-width="0.2" textLength="33" lengthAdjust="spacingAndGlyphs">29009.0</text>
<rect x="1652" y="310" width="2" height="1" fill="#000000"/>
<text x="1657" y="314" font-family='"Liberation Sans", sans-serif' font-size="10" fill="#000" stroke="#000" stroke-width="0.2" textLength="33" lengthAdjust="spacingAndGlyphs">28771.0</text>
<rect x="1652" y="343" width="2" height="1" fill="#000000"/>
<text x="1657" y="347" font-family='"Liberation Sans", sans-serif' font-size="10" fill="#000" stroke="#000" stroke-width="0.2" textLength="33" lengthAdjust="spacingAndGlyphs">28540.0</text>
<rect x="1652" y="376" width="2" height="1" fill="#000000"/>
<text x="1657" y="380" font-family='"Liberation Sans", sans-serif' font-size="10" fill="#000" stroke="#000" stroke-width="0.2" textLength="33" lengthAdjust="spacingAndGlyphs">28302.0</text>
<rect x="1652" y="409" width="2" height="1" fill="#000000"/>
<text x="1657" y="413" font-family='"Liberation Sans", sans-serif' font-size="10" fill="#000" stroke="#000" stroke-width="0.2" textLength="33" lengthAdjust="spacingAndGlyphs">28071.0</text>
<rect x="1652" y="442" width="2" height="1" fill="#000000"/>
<text x="1657" y="446" font-family='"Liberation Sans", sans-serif' font-size="10" fill="#000" stroke="#000" stroke-width="0.2" textLength="33" lengthAdjust="spacingAndGlyphs">27833.0</text>
<rect x="1652" y="475" width="2" height="1" fill="#000000"/>
<text x="1657" y="479" font-family='"Liberation Sans", sans-serif' font-size="10" fill="#000" stroke="#000" stroke-width="0.2" textLength="33" lengthAdjust="spacingAndGlyphs">27602.0</text>
<rect x="1652" y="508" width="2" height="1" fill="#000000"/>
<text x="1657" y="512" font-family='"Liberation Sans", sans-serif' font-size="10" fill="#000" stroke="#000" stroke-width="0.2" textLength="33" lengthAdjust="spacingAndGlyphs">27364.0</text>
<rect x="1652" y="541" width="2" height="1" fill="#000000"/>
<text x="1657" y="545" font-family='"Liberation Sans", sans-serif' font-size="10" fill="#000" stroke="#000" stroke-width="0.2" textLength="33" lengthAdjust="spacingAndGlyphs">27133.0</text>
<rect x="1652" y="574" width="2" height="1" fill="#000000"/>
<text x="1657" y="578" font-family='"Liberation Sans", sans-serif' font-size="10" fill="#000" stroke="#000" stroke-width="0.2" textLength="33" lengthAdjust="spacingAndGlyphs">26902.0</text>
<rect x="1653" y="215" width="41" height="11" fill="#ff0000"/>
<text x="1657" y="224" font-family='"Liberation Sans", sans-serif' font-size="10" fill="#fff" textLength="33" lengthAdjust="spacingAndGlyphs">29402.0</text>
<rect x="1653" y="237" width="41" height="11" fill="#ff0000"/>
<text x="1657" y="246" font-family='"Liberation Sans", sans-serif' font-size="10" fill="#fff" textLength="33" lengthAdjust="spacingAndGlyphs">29246.2</text>
<rect x="1653" y="264" width="41" height="12" fill="#000000"/>
<text x="1657" y="274" font-family='"Liberation Sans", sans-serif' font-size="10" fill="#fff" textLength="33" lengthAdjust="spacingAndGlyphs">29062.5</text>
<rect x="1653" y="258" width="41" height="11" fill="#32cd32"/>
<text x="1657" y="267" font-family='"Liberation Sans", sans-serif' font-size="10" fill="#fff" textLength="33" lengthAdjust="spacingAndGlyphs">29097.5</text>
<rect x="1653" y="284" width="41" height="11" fill="#0000ff"/>
<text x="1657" y="293" font-family='"Liberation Sans", sans-serif' font-size="10" fill="#fff" textLength="33" lengthAdjust="spacingAndGlyphs">28913.4</text>
<rect x="1653" y="309" width="41" height="11" fill="#0000ff"/>
<text x="1657" y="318" font-family='"Liberation Sans", sans-serif' font-size="10" fill="#fff" textLength="33" lengthAdjust="spacingAndGlyphs">28736.4</text>
<g clip-path="url(#cd)" shape-rendering="crispEdges">
<g fill="#c0c0c0"><rect x="0" y="610" width="1" height="53"/><rect x="8" y="613" width="1" height="50"/><rect x="16" y="613" width="1" height="50"/><rect x="24" y="616" width="1" height="47"/><rect x="32" y="620" width="1" height="43"/><rect x="40" y="624" width="1" height="39"/><rect x="48" y="627" width="1" height="36"/><rect x="56" y="630" width="1" height="33"/><rect x="64" y="631" width="1" height="32"/><rect x="72" y="630" width="1" height="33"/><rect x="80" y="631" width="1" height="32"/><rect x="88" y="633" width="1" height="30"/><rect x="96" y="635" width="1" height="28"/><rect x="104" y="632" width="1" height="31"/><rect x="112" y="631" width="1" height="32"/><rect x="120" y="631" width="1" height="32"/><rect x="128" y="634" width="1" height="29"/><rect x="136" y="634" width="1" height="29"/><rect x="144" y="635" width="1" height="28"/><rect x="152" y="632" width="1" height="31"/><rect x="160" y="631" width="1" height="32"/><rect x="168" y="631" width="1" height="32"/><rect x="176" y="630" width="1" height="33"/><rect x="184" y="630" width="1" height="33"/><rect x="192" y="630" width="1" height="33"/><rect x="200" y="630" width="1" height="33"/><rect x="208" y="631" width="1" height="32"/><rect x="216" y="636" width="1" height="27"/><rect x="224" y="640" width="1" height="23"/><rect x="232" y="642" width="1" height="21"/><rect x="240" y="644" width="1" height="19"/><rect x="248" y="645" width="1" height="18"/><rect x="256" y="646" width="1" height="17"/><rect x="264" y="646" width="1" height="17"/><rect x="272" y="646" width="1" height="17"/><rect x="280" y="645" width="1" height="18"/><rect x="288" y="646" width="1" height="17"/><rect x="296" y="650" width="1" height="13"/><rect x="304" y="652" width="1" height="11"/><rect x="312" y="654" width="1" height="9"/><rect x="320" y="654" width="1" height="9"/><rect x="328" y="654" width="1" height="9"/><rect x="336" y="656" width="1" height="7"/><rect x="344" y="656" width="1" height="7"/><rect x="352" y="655" width="1" height="8"/><rect x="360" y="657" width="1" height="6"/><rect x="368" y="658" width="1" height="5"/><rect x="376" y="663" width="1" height="1"/><rect x="392" y="663" width="1" height="5"/><rect x="400" y="663" width="1" height="11"/><rect x="408" y="663" width="1" height="16"/><rect x="416" y="663" width="1" height="24"/><rect x="424" y="663" width="1" height="26"/><rect x="432" y="663" width="1" height="26"/><rect x="440" y="663" width="1" height="25"/><rect x="448" y="663" width="1" height="20"/><rect x="456" y="663" width="1" height="20"/><rect x="464" y="663" width="1" height="16"/><rect x="472" y="663" width="1" height="16"/><rect x="480" y="663" width="1" height="18"/><rect x="488" y="663" width="1" height="20"/><rect x="496" y="663" width="1" height="19"/><rect x="504" y="663" width="1" height="17"/><rect x="512" y="663" width="1" height="15"/><rect x="520" y="663" width="1" height="14"/><rect x="528" y="663" width="1" height="11"/><rect x="536" y="663" width="1" height="7"/><rect x="544" y="663" width="1" height="5"/><rect x="552" y="663" width="1" height="1"/><rect x="560" y="663" width="1" height="1"/><rect x="568" y="660" width="1" height="3"/><rect x="576" y="658" width="1" height="5"/><rect x="584" y="657" width="1" height="6"/><rect x="592" y="658" width="1" height="5"/><rect x="600" y="658" width="1" height="5"/><rect x="608" y="658" width="1" height="5"/><rect x="616" y="658" width="1" height="5"/><rect x="624" y="656" width="1" height="7"/><rect x="632" y="655" width="1" height="8"/><rect x="640" y="656" width="1" height="7"/><rect x="648" y="656" width="1" height="7"/><rect x="656" y="656" width="1" height="7"/><rect x="664" y="657" width="1" height="6"/><rect x="672" y="658" width="1" height="5"/><rect x="680" y="659" width="1" height="4"/><rect x="696" y="663" width="1" height="3"/><rect x="704" y="663" width="1" height="6"/><rect x="712" y="663" width="1" height="11"/><rect x="720" y="663" width="1" height="13"/><rect x="728" y="663" width="1" height="17"/><rect x="736" y="663" width="1" height="15"/><rect x="744" y="663" width="1" height="13"/><rect x="752" y="663" width="1" height="11"/><rect x="760" y="663" width="1" height="9"/><rect x="768" y="663" width="1" height="11"/><rect x="776" y="663" width="1" height="13"/><rect x="784" y="663" width="1" height="13"/><rect x="792" y="663" width="1" height="15"/><rect x="800" y="663" width="1" height="15"/><rect x="808" y="663" width="1" height="19"/><rect x="816" y="663" width="1" height="21"/><rect x="824" y="663" width="1" height="31"/><rect x="832" y="663" width="1" height="36"/><rect x="840" y="663" width="1" height="41"/><rect x="848" y="663" width="1" height="39"/><rect x="856" y="663" width="1" height="38"/><rect x="864" y="663" width="1" height="36"/><rect x="872" y="663" width="1" height="45"/><rect x="880" y="663" width="1" height="49"/><rect x="888" y="663" width="1" height="63"/><rect x="896" y="663" width="1" height="69"/><rect x="904" y="663" width="1" height="74"/><rect x="912" y="663" width="1" height="77"/><rect x="920" y="663" width="1" height="77"/><rect x="928" y="663" width="1" height="75"/><rect x="936" y="663" width="1" height="71"/><rect x="944" y="663" width="1" height="65"/><rect x="952" y="663" width="1" height="61"/><rect x="960" y="663" width="1" height="59"/><rect x="968" y="663" width="1" height="65"/><rect x="976" y="663" width="1" height="73"/><rect x="984" y="663" width="1" height="74"/><rect x="992" y="663" width="1" height="71"/><rect x="1000" y="663" width="1" height="68"/><rect x="1008" y="663" width="1" height="65"/><rect x="1016" y="663" width="1" height="59"/><rect x="1024" y="663" width="1" height="53"/><rect x="1032" y="663" width="1" height="46"/><rect x="1040" y="663" width="1" height="40"/><rect x="1048" y="663" width="1" height="35"/><rect x="1056" y="663" width="1" height="29"/><rect x="1064" y="663" width="1" height="25"/><rect x="1072" y="663" width="1" height="21"/><rect x="1080" y="663" width="1" height="17"/><rect x="1088" y="663" width="1" height="15"/><rect x="1096" y="663" width="1" height="13"/><rect x="1104" y="663" width="1" height="14"/><rect x="1112" y="663" width="1" height="6"/><rect x="1128" y="658" width="1" height="5"/><rect x="1136" y="653" width="1" height="10"/><rect x="1144" y="652" width="1" height="11"/><rect x="1152" y="651" width="1" height="12"/><rect x="1160" y="654" width="1" height="9"/><rect x="1168" y="656" width="1" height="7"/><rect x="1176" y="657" width="1" height="6"/><rect x="1184" y="657" width="1" height="6"/><rect x="1192" y="661" width="1" height="2"/><rect x="1216" y="663" width="1" height="1"/><rect x="1224" y="663" width="1" height="1"/><rect x="1232" y="663" width="1" height="2"/><rect x="1240" y="663" width="1" height="1"/><rect x="1248" y="662" width="1" height="1"/><rect x="1256" y="660" width="1" height="3"/><rect x="1264" y="655" width="1" height="8"/><rect x="1272" y="651" width="1" height="12"/><rect x="1280" y="647" width="1" height="16"/><rect x="1288" y="644" width="1" height="19"/><rect x="1296" y="640" width="1" height="23"/><rect x="1304" y="636" width="1" height="27"/><rect x="1312" y="632" width="1" height="31"/><rect x="1320" y="628" width="1" height="35"/><rect x="1328" y="625" width="1" height="38"/><rect x="1336" y="624" width="1" height="39"/><rect x="1344" y="624" width="1" height="39"/><rect x="1352" y="625" width="1" height="38"/><rect x="1360" y="627" width="1" height="36"/><rect x="1368" y="630" width="1" height="33"/><rect x="1376" y="631" width="1" height="32"/><rect x="1384" y="633" width="1" height="30"/></g>
<polyline points="0.0,590.5 25.0,603.0 50.0,614.0 62.0,619.0 87.0,625.5 100.0,629.0 125.0,630.5 150.0,631.8 175.0,631.0 200.0,631.0 225.0,631.0 250.0,635.0 262.0,639.0 300.0,644.0 325.0,648.5 350.0,651.8 375.0,655.5 400.0,660.5 420.0,669.2 432.0,674.2 445.0,680.0 460.0,684.2 480.0,685.0 495.0,684.2 520.0,680.5 545.0,676.0 570.0,669.2 595.0,661.0 620.0,656.8 645.0,655.5 670.0,655.5 695.0,657.5 720.0,665.5 745.0,672.5 770.0,675.5 795.0,676.8 820.0,679.2 840.0,687.2 865.0,695.5 890.0,706.8 915.0,719.2 940.0,731.0 965.0,733.5 990.0,732.5 1015.0,730.0 1040.0,725.5 1065.0,708.0 1090.0,693.0 1115.0,680.0 1140.0,671.0 1165.0,657.5 1190.0,654.2 1215.0,658.5 1240.0,662.3 1258.0,662.6 1276.0,660.8 1294.0,655.3 1313.0,647.2 1331.0,639.0 1349.0,631.7 1367.0,628.0 1384.0,626.0" fill="none" stroke="#ff0000" stroke-width="1" stroke-dasharray="3 3"/>
</g>
<text x="-2" y="592" font-family='"Liberation Sans", sans-serif' font-size="9.5" fill="#000" stroke="#000" stroke-width="0.2" textLength="126" lengthAdjust="spacingAndGlyphs">MACD(12,26,9) 192.83 218.58</text>
<path d="M1341.0 617.0 L1382.4 629.9" stroke="#ff0000" stroke-width="3.2" fill="none" stroke-linecap="square"/>
<path d="M1391.0 632.6 L1381.1 634.2 L1383.7 625.6 Z" fill="#ff0000"/>
<rect x="1652" y="581" width="2" height="1" fill="#000000"/>
<text x="1655" y="590" font-family='"Liberation Sans", sans-serif' font-size="10" fill="#000" stroke="#000" stroke-width="0.2" textLength="27" lengthAdjust="spacingAndGlyphs">497.05</text>
<rect x="1652" y="663" width="2" height="1" fill="#000000"/>
<text x="1655" y="667" font-family='"Liberation Sans", sans-serif' font-size="10" fill="#000" stroke="#000" stroke-width="0.2" textLength="18" lengthAdjust="spacingAndGlyphs">0.00</text>
<rect x="1652" y="748" width="2" height="1" fill="#000000"/>
<text x="1655" y="746" font-family='"Liberation Sans", sans-serif' font-size="10" fill="#000" stroke="#000" stroke-width="0.2" textLength="30" lengthAdjust="spacingAndGlyphs">-520.88</text>
<g clip-path="url(#cr)" shape-rendering="crispEdges">
<path d="M0 787.5 H1651" stroke="#c0c0c0" stroke-dasharray="3 3"/>
<path d="M0 838.5 H1651" stroke="#c0c0c0" stroke-dasharray="3 3"/>
<path d="M0 899.5 H1651" stroke="#c0c0c0" stroke-dasharray="3 3"/>
</g>
<g clip-path="url(#cr)">
<polyline points="0.0,820.5 8.0,813.8 16.0,805.5 24.0,822.0 32.0,820.0 40.0,826.2 48.0,825.0 56.0,824.5 64.0,818.8 72.0,811.2 80.0,819.5 88.0,821.2 96.0,823.0 104.0,810.0 112.0,805.0 120.0,813.8 128.0,817.5 136.0,830.0 144.0,819.5 152.0,823.0 160.0,810.0 168.0,818.0 176.0,817.0 184.0,814.5 192.0,817.5 200.0,814.5 208.0,824.5 216.0,833.8 224.0,836.2 232.0,834.5 240.0,828.8 248.0,825.0 256.0,826.2 264.0,832.0 272.0,823.8 280.0,820.0 288.0,819.5 296.0,847.0 304.0,838.8 312.0,838.8 320.0,831.2 328.0,833.0 336.0,837.0 344.0,832.0 352.0,838.8 360.0,842.0 368.0,843.8 376.0,848.0 384.0,842.0 392.0,862.5 400.0,868.8 408.0,871.2 416.0,878.8 424.0,863.8 432.0,851.2 440.0,848.8 448.0,836.2 456.0,847.0 464.0,841.2 472.0,848.0 480.0,852.0 488.0,857.0 496.0,847.5 504.0,843.0 512.0,841.2 520.0,842.0 528.0,836.2 536.0,834.5 544.0,836.2 552.0,826.2 560.0,827.5 568.0,825.0 576.0,829.5 584.0,828.2 592.0,836.2 600.0,835.0 608.0,830.5 616.0,829.5 624.0,826.2 632.0,828.0 640.0,833.0 648.0,833.0 656.0,832.0 664.0,830.0 672.0,838.0 680.0,843.0 688.0,852.5 696.0,871.2 704.0,865.5 712.0,868.8 720.0,865.0 728.0,873.8 736.0,840.5 744.0,838.8 752.0,841.2 760.0,846.2 768.0,852.0 776.0,858.0 784.0,854.5 792.0,858.8 800.0,859.5 808.0,867.0 816.0,870.0 824.0,887.5 832.0,879.5 840.0,881.2 848.0,857.5 856.0,857.5 864.0,857.5 872.0,877.5 880.0,879.5 888.0,891.2 896.0,885.0 904.0,882.0 912.0,880.5 920.0,876.2 928.0,872.5 936.0,861.2 944.0,858.0 952.0,861.2 960.0,865.0 968.0,878.8 976.0,885.0 984.0,871.2 992.0,858.0 1000.0,859.5 1008.0,859.0 1016.0,853.8 1024.0,848.8 1032.0,843.8 1040.0,843.0 1048.0,842.0 1056.0,838.8 1064.0,837.5 1072.0,840.5 1080.0,838.8 1088.0,840.5 1096.0,843.0 1104.0,848.0 1112.0,822.5 1120.0,821.2 1128.0,812.5 1136.0,823.0 1144.0,827.5 1152.0,830.5 1160.0,841.2 1168.0,839.5 1176.0,838.8 1184.0,837.5 1192.0,846.2 1200.0,850.0 1208.0,842.0 1216.0,837.5 1224.0,843.0 1232.0,843.0 1240.0,839.6 1248.0,835.7 1256.0,820.5 1264.0,815.7 1272.0,813.3 1280.0,813.3 1288.0,809.0 1296.0,806.8 1304.0,801.8 1312.0,797.3 1320.0,797.3 1328.0,795.4 1336.0,796.1 1344.0,803.0 1352.0,815.7 1360.0,821.5 1368.0,817.1 1376.0,813.3 1384.0,812.9" fill="none" stroke="#1e90ff" stroke-width="1" shape-rendering="crispEdges"/>
</g>
<text x="-3.5" y="764" font-family='"Liberation Sans", sans-serif' font-size="9.5" fill="#000" stroke="#000" stroke-width="0.2" textLength="67" lengthAdjust="spacingAndGlyphs">RSI(14) 64.9411</text>
<path d="M1326.7 807.2 L1382.4 811.7" stroke="#ff0000" stroke-width="3.2" fill="none" stroke-linecap="square"/>
<path d="M1392.4 812.5 L1382.1 816.2 L1382.8 807.2 Z" fill="#ff0000"/>
<rect x="1652" y="753" width="2" height="1" fill="#000000"/>
<text x="1655" y="762" font-family='"Liberation Sans", sans-serif' font-size="10" fill="#000" stroke="#000" stroke-width="0.2" textLength="14" lengthAdjust="spacingAndGlyphs">100</text>
<rect x="1652" y="787" width="2" height="1" fill="#000000"/>
<text x="1655" y="791" font-family='"Liberation Sans", sans-serif' font-size="10" fill="#000" stroke="#000" stroke-width="0.2" textLength="9" lengthAdjust="spacingAndGlyphs">80</text>
<rect x="1652" y="838" width="2" height="1" fill="#000000"/>
<text x="1655" y="842" font-family='"Liberation Sans", sans-serif' font-size="10" fill="#000" stroke="#000" stroke-width="0.2" textLength="9" lengthAdjust="spacingAndGlyphs">50</text>
<rect x="1652" y="899" width="2" height="1" fill="#000000"/>
<text x="1655" y="903" font-family='"Liberation Sans", sans-serif' font-size="10" fill="#000" stroke="#000" stroke-width="0.2" textLength="9" lengthAdjust="spacingAndGlyphs">15</text>
<text x="1655" y="922" font-family='"Liberation Sans", sans-serif' font-size="10" fill="#000" stroke="#000" stroke-width="0.2" textLength="5" lengthAdjust="spacingAndGlyphs">0</text>
<text x="-9" y="938" font-family='"Liberation Sans", sans-serif' font-size="9.6" fill="#000" stroke="#000" stroke-width="0.15" textLength="47.8" lengthAdjust="spacingAndGlyphs">8 Sep 2021</text>
<rect x="56" y="926" width="1" height="3" fill="#000000"/>
<text x="56" y="938" font-family='"Liberation Sans", sans-serif' font-size="9.6" fill="#000" stroke="#000" stroke-width="0.15" textLength="50.4" lengthAdjust="spacingAndGlyphs">9 Sep 00:00</text>
<rect x="120" y="926" width="1" height="3" fill="#000000"/>
<text x="120" y="938" font-family='"Liberation Sans", sans-serif' font-size="9.6" fill="#000" stroke="#000" stroke-width="0.15" textLength="55.6" lengthAdjust="spacingAndGlyphs">10 Sep 10:55</text>
<rect x="184" y="926" width="1" height="3" fill="#000000"/>
<text x="184" y="938" font-family='"Liberation Sans", sans-serif' font-size="9.6" fill="#000" stroke="#000" stroke-width="0.15" textLength="55.6" lengthAdjust="spacingAndGlyphs">13 Sep 18:55</text>
<rect x="248" y="926" width="1" height="3" fill="#000000"/>
<text x="248" y="938" font-family='"Liberation Sans", sans-serif' font-size="9.6" fill="#000" stroke="#000" stroke-width="0.15" textLength="55.6" lengthAdjust="spacingAndGlyphs">15 Sep 00:00</text>
<rect x="312" y="926" width="1" height="3" fill="#000000"/>
<text x="312" y="938" font-family='"Liberation Sans", sans-serif' font-size="9.6" fill="#000" stroke="#000" stroke-width="0.15" textLength="55.6" lengthAdjust="spacingAndGlyphs">16 Sep 10:55</text>
<rect x="376" y="926" width="1" height="3" fill="#000000"/>
<text x="376" y="938" font-family='"Liberation Sans", sans-serif' font-size="9.6" fill="#000" stroke="#000" stroke-width="0.15" textLength="55.6" lengthAdjust="spacingAndGlyphs">17 Sep 18:55</text>
<rect x="440" y="926" width="1" height="3" fill="#000000"/>
<text x="440" y="938" font-family='"Liberation Sans", sans-serif' font-size="9.6" fill="#000" stroke="#000" stroke-width="0.15" textLength="55.6" lengthAdjust="spacingAndGlyphs">21 Sep 00:00</text>
<rect x="504" y="926" width="1" height="3" fill="#000000"/>
<text x="504" y="938" font-family='"Liberation Sans", sans-serif' font-size="9.6" fill="#000" stroke="#000" stroke-width="0.15" textLength="55.6" lengthAdjust="spacingAndGlyphs">22 Sep 10:55</text>
<rect x="568" y="926" width="1" height="3" fill="#000000"/>
<text x="568" y="938" font-family='"Liberation Sans", sans-serif' font-size="9.6" fill="#000" stroke="#000" stroke-width="0.15" textLength="55.6" lengthAdjust="spacingAndGlyphs">23 Sep 18:55</text>
<rect x="632" y="926" width="1" height="3" fill="#000000"/>
<text x="632" y="938" font-family='"Liberation Sans", sans-serif' font-size="9.6" fill="#000" stroke="#000" stroke-width="0.15" textLength="55.6" lengthAdjust="spacingAndGlyphs">27 Sep 00:00</text>
<rect x="696" y="926" width="1" height="3" fill="#000000"/>
<text x="696" y="938" font-family='"Liberation Sans", sans-serif' font-size="9.6" fill="#000" stroke="#000" stroke-width="0.15" textLength="55.6" lengthAdjust="spacingAndGlyphs">28 Sep 10:55</text>
<rect x="760" y="926" width="1" height="3" fill="#000000"/>
<text x="760" y="938" font-family='"Liberation Sans", sans-serif' font-size="9.6" fill="#000" stroke="#000" stroke-width="0.15" textLength="55.6" lengthAdjust="spacingAndGlyphs">29 Sep 18:55</text>
<rect x="824" y="926" width="1" height="3" fill="#000000"/>
<text x="824" y="938" font-family='"Liberation Sans", sans-serif' font-size="9.6" fill="#000" stroke="#000" stroke-width="0.15" textLength="48.3" lengthAdjust="spacingAndGlyphs">1 Oct 00:00</text>
<rect x="888" y="926" width="1" height="3" fill="#000000"/>
<text x="888" y="938" font-family='"Liberation Sans", sans-serif' font-size="9.6" fill="#000" stroke="#000" stroke-width="0.15" textLength="48.3" lengthAdjust="spacingAndGlyphs">4 Oct 10:55</text>
<rect x="952" y="926" width="1" height="3" fill="#000000"/>
<text x="952" y="938" font-family='"Liberation Sans", sans-serif' font-size="9.6" fill="#000" stroke="#000" stroke-width="0.15" textLength="48.3" lengthAdjust="spacingAndGlyphs">5 Oct 18:55</text>
<rect x="1016" y="926" width="1" height="3" fill="#000000"/>
<text x="1016" y="938" font-family='"Liberation Sans", sans-serif' font-size="9.6" fill="#000" stroke="#000" stroke-width="0.15" textLength="48.3" lengthAdjust="spacingAndGlyphs">7 Oct 00:00</text>
<rect x="1080" y="926" width="1" height="3" fill="#000000"/>
<text x="1080" y="938" font-family='"Liberation Sans", sans-serif' font-size="9.6" fill="#000" stroke="#000" stroke-width="0.15" textLength="48.3" lengthAdjust="spacingAndGlyphs">8 Oct 10:55</text>
<rect x="1144" y="926" width="1" height="3" fill="#000000"/>
<text x="1144" y="938" font-family='"Liberation Sans", sans-serif' font-size="9.6" fill="#000" stroke="#000" stroke-width="0.15" textLength="53.5" lengthAdjust="spacingAndGlyphs">11 Oct 18:55</text>
<rect x="1208" y="926" width="1" height="3" fill="#000000"/>
<text x="1208" y="938" font-family='"Liberation Sans", sans-serif' font-size="9.6" fill="#000" stroke="#000" stroke-width="0.15" textLength="53.5" lengthAdjust="spacingAndGlyphs">13 Oct 00:00</text>
<rect x="1272" y="926" width="1" height="3" fill="#000000"/>
<text x="1272" y="938" font-family='"Liberation Sans", sans-serif' font-size="9.6" fill="#000" stroke="#000" stroke-width="0.15" textLength="53.5" lengthAdjust="spacingAndGlyphs">14 Oct 10:55</text>
<rect x="1336" y="926" width="1" height="3" fill="#000000"/>
<text x="1336" y="938" font-family='"Liberation Sans", sans-serif' font-size="9.6" fill="#000" stroke="#000" stroke-width="0.15" textLength="53.5" lengthAdjust="spacingAndGlyphs">15 Oct 18:55</text>
</svg>

<div style="position:absolute;left:0;top:44px;width:215px;height:57px;font-family:"Liberation Sans", sans-serif">
 <div style="position:absolute;left:0;top:0;width:47px;height:24px;background:linear-gradient(#f65a5a,#e23c3c);box-sizing:border-box;border-top:1px solid #b80c0c;border-right:1px solid #b80c0c"></div>
 <div style="position:absolute;left:0;top:23px;width:43px;height:1px;background:#a80808"></div>
 <div style="position:absolute;left:0;top:24px;width:43px;height:1px;background:#f07070"></div>
 <div style="position:absolute;left:162px;top:0;width:53px;height:24px;background:linear-gradient(#f65a5a,#e23c3c);box-sizing:border-box;border-top:1px solid #b80c0c;border-left:1px solid #b80c0c;border-right:1px solid #b80c0c"></div>
 <div style="position:absolute;left:166px;top:23px;width:45px;height:1px;background:#a80808"></div>
 <div style="position:absolute;left:166px;top:24px;width:45px;height:1px;background:#f07070"></div>
 <div style="position:absolute;left:0;top:24px;width:104px;height:33px;background:linear-gradient(#dc2c2c,#b40606);box-sizing:border-box;border-top:1px solid #c00808;border-right:1px solid #b00000;border-bottom:1px solid #b00000"></div>
 <div style="position:absolute;left:0;top:24px;width:43px;height:1px;background:#f07070"></div>
 <div style="position:absolute;left:106px;top:24px;width:109px;height:33px;background:linear-gradient(#dc2c2c,#b40606);box-sizing:border-box;border-top:1px solid #c00808;border-left:1px solid #b00000;border-right:1px solid #b00000;border-bottom:1px solid #b00000"></div>
 <div style="position:absolute;left:166px;top:24px;width:45px;height:1px;background:#f07070"></div>
 <div style="position:absolute;left:0;top:23px;width:43px;height:1px;background:#a80808"></div>
 <div style="position:absolute;left:166px;top:23px;width:45px;height:1px;background:#a80808"></div>
 <div style="position:absolute;left:47px;top:0;width:115px;height:24px;background:#fff"></div>
 <div style="position:absolute;left:49px;top:0;width:111px;height:22px;box-sizing:border-box;border:1px solid #a8acb8;background:#fff"></div>
 <div style="position:absolute;left:51px;top:2px;width:19px;height:18px;background:linear-gradient(#f2f2f2,#d2d2d2)"></div>
 <div style="position:absolute;left:70px;top:1px;width:1px;height:20px;background:#b0b0b0"></div>
 <div style="position:absolute;left:139px;top:2px;width:20px;height:18px;background:linear-gradient(#f2f2f2,#d2d2d2)"></div>
 <div style="position:absolute;left:138px;top:1px;width:1px;height:20px;background:#b0b0b0"></div>
 <svg style="position:absolute;left:0;top:0" width="215" height="57">
  <path d="M57 9 h6 l-3 3 z" fill="#5a6ad0"/>
  <path d="M146 12 h6 l-3 -3 z" fill="#5a6ad0"/>
  <text x="111" y="14.8" font-family='"Liberation Sans", sans-serif' font-size="12.5" fill="#000">1.00</text>
  <text x="7.5" y="16" font-family='"Liberation Sans", sans-serif' font-size="12" fill="#fff" textLength="25.5" lengthAdjust="spacingAndGlyphs">SELL</text>
  <text x="175.5" y="16" font-family='"Liberation Sans", sans-serif' font-size="12" fill="#fff" textLength="23.5" lengthAdjust="spacingAndGlyphs">BUY</text>
  <text x="11.5" y="52" font-family='"Liberation Sans", sans-serif' font-size="12" font-weight="bold" fill="#fff" textLength="34.5" lengthAdjust="spacingAndGlyphs">29061</text>
  <circle cx="52.2" cy="49.8" r="2.3" fill="#fff"/>
  <text x="56" y="52" font-family='"Liberation Serif", serif' font-size="34" fill="#fff" textLength="17.5" lengthAdjust="spacingAndGlyphs">0</text>
  <text x="121" y="52" font-family='"Liberation Sans", sans-serif' font-size="12" font-weight="bold" fill="#fff" textLength="34.5" lengthAdjust="spacingAndGlyphs">29084</text>
  <circle cx="163.4" cy="49.8" r="2.3" fill="#fff"/>
  <text x="167" y="52" font-family='"Liberation Serif", serif' font-size="34" fill="#fff" textLength="17.5" lengthAdjust="spacingAndGlyphs">0</text>
 </svg>
</div>

</div></body></html>
